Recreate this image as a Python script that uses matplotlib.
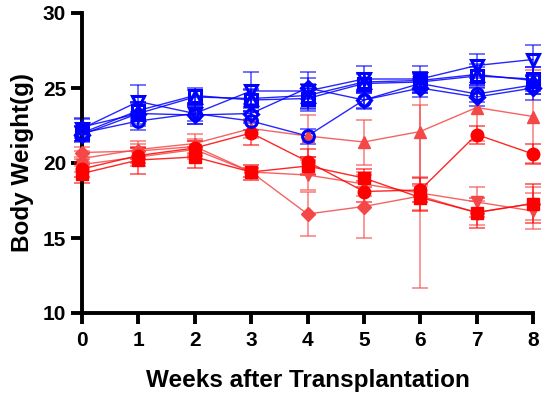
import matplotlib
matplotlib.use("Agg")
import matplotlib.pyplot as plt
import numpy as np

weeks = [0, 1, 2, 3, 4, 5, 6, 7, 8]

# Blue (open markers)
blue_circle = [22.0, 22.8, 23.3, 22.8, 21.8, 24.2, 25.3, 24.6, 25.2]
blue_circle_err = [0.5, 0.6, 0.5, 0.6, 0.5, 0.5, 0.6, 0.5, 0.6]
blue_square = [22.0, 23.5, 24.5, 24.2, 24.3, 25.3, 25.4, 25.8, 25.6]
blue_square_err = [0.5, 0.6, 0.5, 0.7, 0.7, 0.6, 0.7, 0.6, 0.8]
blue_tri = [22.4, 23.3, 24.4, 24.3, 24.5, 25.4, 25.5, 25.9, 25.5]
blue_tri_err = [0.6, 0.7, 0.5, 0.6, 0.8, 0.6, 0.6, 0.7, 0.9]
blue_vtri = [22.3, 24.1, 23.3, 24.8, 24.8, 25.6, 25.6, 26.5, 26.9]
blue_vtri_err = [0.6, 1.1, 0.7, 1.3, 1.3, 0.9, 0.9, 0.8, 1.0]
blue_diamond = [21.9, 23.3, 23.2, 23.3, 25.0, 24.2, 25.0, 24.4, 25.0]
blue_diamond_err = [0.5, 0.8, 0.6, 0.6, 0.7, 0.6, 0.6, 0.6, 0.8]

# Red (filled markers)
red_circle = [19.6, 20.5, 21.0, 22.0, 20.1, 18.1, 18.2, 21.9, 20.6]
red_circle_err = [0.5, 0.5, 0.5, 0.8, 0.8, 0.7, 0.8, 0.6, 0.7]
red_square = [19.3, 20.2, 20.4, 19.4, 19.8, 19.0, 17.7, 16.7, 17.3]
red_square_err = [0.6, 0.9, 0.7, 0.3, 0.6, 0.6, 0.9, 1.0, 1.3]
red_tri = [20.3, 20.9, 21.3, 22.3, 21.8, 21.4, 22.1, 23.7, 23.1]
red_tri_err = [0.5, 0.6, 0.6, 0.6, 1.4, 1.5, 3.6, 2.2, 3.1]
red_vtri = [19.9, 20.4, 20.9, 19.4, 19.2, 18.6, 18.0, 17.4, 16.8]
red_vtri_err = [0.5, 0.6, 0.6, 0.5, 1.0, 0.8, 1.1, 1.0, 1.2]
red_diamond = [20.7, 20.8, 21.1, 19.4, 16.6, 17.1, 17.8, 16.7, 17.3]
red_diamond_err = [0.4, 0.5, 0.5, 0.5, 1.5, 2.1, 6.1, 0.8, 1.1]

BLUE = "#0000FF"
RED = "#FF0000"
LRED = "#F44848"

fig = plt.figure(figsize=(5.6, 3.96), dpi=100)
ax = fig.add_axes([82/560, 1-313/396, (533-82)/560, 300/396])

series = [
    (red_diamond, red_diamond_err, "D", LRED, True, 7),
    (red_vtri, red_vtri_err, "v", LRED, True, 9),
    (red_tri, red_tri_err, "^", LRED, True, 9),
    (red_square, red_square_err, "s", RED, True, 8.5),
    (red_circle, red_circle_err, "o", RED, True, 9),
    (blue_circle, blue_circle_err, "o", BLUE, False, 8.5),
    (blue_diamond, blue_diamond_err, "D", BLUE, False, 7),
    (blue_tri, blue_tri_err, "^", BLUE, False, 9),
    (blue_square, blue_square_err, "s", BLUE, False, 8.5),
    (blue_vtri, blue_vtri_err, "v", BLUE, False, 9),
]

for y, e, m, c, filled, ms in series:
    ax.errorbar(weeks, y, yerr=e, fmt="none", ecolor=c, elinewidth=1.3,
                capsize=6, capthick=1.3, alpha=0.6, clip_on=False, zorder=2)
    ax.plot(weeks, y, color=c, lw=1.0, alpha=0.85, zorder=3, clip_on=False)
    ax.plot(weeks, y, linestyle="none", marker=m, markersize=ms,
            markerfacecolor=c if filled else "none", markeredgecolor=c,
            markeredgewidth=2.2 if not filled else 1.0, zorder=4, clip_on=False)

ax.set_xlim(0, 8)
ax.set_ylim(10, 30)
ax.set_xticks(range(0, 9))
ax.set_yticks([10, 15, 20, 25, 30])
for s in ["top", "right"]:
    ax.spines[s].set_visible(False)
for s in ["left", "bottom"]:
    ax.spines[s].set_linewidth(2.8)
ax.tick_params(axis="both", width=2.8, length=8, labelsize=15)
ax.tick_params(axis="x", pad=5)
for lbl in ax.get_xticklabels() + ax.get_yticklabels():
    lbl.set_fontweight("bold")
    lbl.set_fontfamily("Liberation Sans")
ax.set_xlabel("Weeks after Transplantation", fontsize=17.5, fontweight="bold",
              fontfamily="Liberation Sans", labelpad=14)
ax.set_ylabel("Body Weight(g)", fontsize=17.5, fontweight="bold",
              fontfamily="Liberation Sans", labelpad=6)

fig.savefig("out.png", dpi=100)
